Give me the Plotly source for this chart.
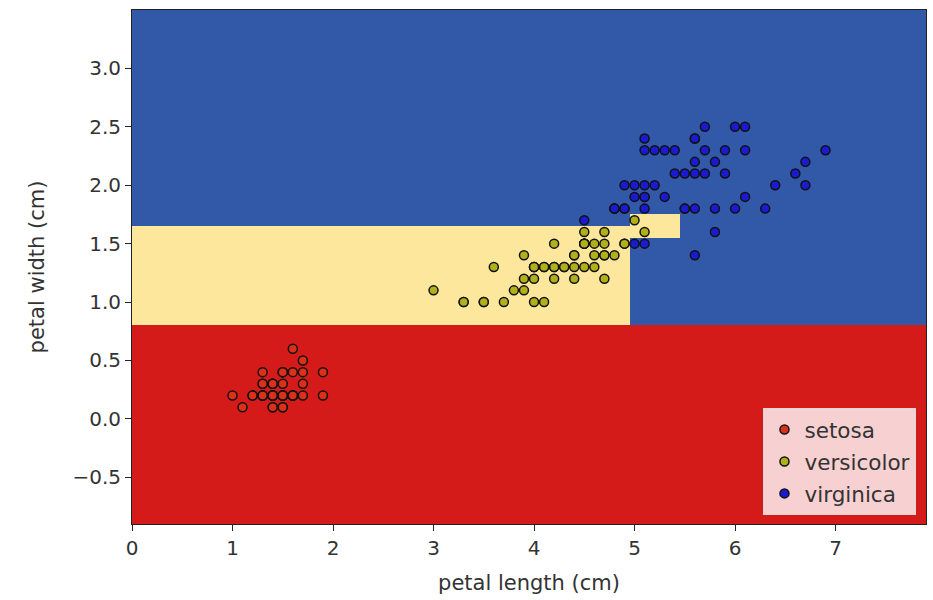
import plotly.graph_objects as go

# ---- data ----
setosa_len = [1.4,1.4,1.3,1.5,1.4,1.7,1.4,1.5,1.4,1.5,1.5,1.6,1.4,1.1,1.2,1.5,1.3,1.4,1.7,1.5,
              1.7,1.5,1.0,1.7,1.9,1.6,1.6,1.5,1.4,1.6,1.6,1.5,1.5,1.4,1.5,1.2,1.3,1.4,1.3,1.5,
              1.3,1.3,1.3,1.6,1.9,1.4,1.6,1.4,1.5,1.4]
setosa_wid = [0.2,0.2,0.2,0.2,0.2,0.4,0.3,0.2,0.2,0.1,0.2,0.2,0.1,0.1,0.2,0.4,0.4,0.3,0.3,0.3,
              0.2,0.4,0.2,0.5,0.2,0.2,0.4,0.2,0.2,0.2,0.2,0.4,0.1,0.2,0.2,0.2,0.2,0.1,0.2,0.2,
              0.3,0.3,0.2,0.6,0.4,0.3,0.2,0.2,0.2,0.2]
versi_len = [4.7,4.5,4.9,4.0,4.6,4.5,4.7,3.3,4.6,3.9,3.5,4.2,4.0,4.7,3.6,4.4,4.5,4.1,4.5,3.9,
             4.8,4.0,4.9,4.7,4.3,4.4,4.8,5.0,4.5,3.5,3.8,3.7,3.9,5.1,4.5,4.5,4.7,4.4,4.1,4.0,
             4.4,4.6,4.0,3.3,4.2,4.2,4.2,4.3,3.0,4.1]
versi_wid = [1.4,1.5,1.5,1.3,1.5,1.3,1.6,1.0,1.3,1.4,1.0,1.5,1.0,1.4,1.3,1.4,1.5,1.0,1.5,1.1,
             1.8,1.3,1.5,1.2,1.3,1.4,1.4,1.7,1.5,1.0,1.1,1.0,1.2,1.6,1.5,1.6,1.5,1.3,1.3,1.3,
             1.2,1.4,1.2,1.0,1.3,1.2,1.3,1.3,1.1,1.3]
virg_len = [6.0,5.1,5.9,5.6,5.8,6.6,4.5,6.3,5.8,6.1,5.1,5.3,5.5,5.0,5.1,5.3,5.5,6.7,6.9,5.0,
            5.7,4.9,6.7,4.9,5.7,6.0,4.8,4.9,5.6,5.8,6.1,6.4,5.6,5.1,5.6,6.1,5.6,5.5,4.8,5.4,
            5.6,5.1,5.1,5.9,5.7,5.2,5.0,5.2,5.4,5.1]
virg_wid = [2.5,1.9,2.1,1.8,2.2,2.1,1.7,1.8,1.8,2.5,2.0,1.9,2.1,2.0,2.4,2.3,1.8,2.2,2.3,1.5,
            2.3,2.0,2.0,1.8,2.1,1.8,1.8,1.8,2.1,1.6,1.9,2.0,2.2,1.5,1.4,2.3,2.4,1.8,1.8,2.1,
            2.4,2.3,1.9,2.3,2.5,2.3,1.9,2.0,2.3,1.8]

# decision regions (tree thresholds) as bin edges and predicted class per cell
region_x_edges = [0.0, 4.95, 5.45, 7.9]
region_y_edges = [-0.9, 0.8, 1.55, 1.65, 1.75, 3.5]
region_class = [
    [0, 0, 0],
    [1, 2, 2],
    [1, 1, 2],
    [2, 1, 2],
    [2, 2, 2],
]

bg_red, bg_yel, bg_blue = "#d51b1a", "#fde79c", "#3159a8"
names = ["setosa", "versicolor", "virginica"]
pt_colors = ["#dc3018", "#b0b01a", "#1a1ad0"]

fig = go.Figure()
fig.add_trace(go.Heatmap(
    x=region_x_edges, y=region_y_edges, z=region_class,
    zmin=0, zmax=2, showscale=False, hoverinfo="skip",
    colorscale=[[0, bg_red], [1/3, bg_red], [1/3, bg_yel], [2/3, bg_yel], [2/3, bg_blue], [1, bg_blue]],
))

for nm, xs, ys, c in zip(names, [setosa_len, versi_len, virg_len], [setosa_wid, versi_wid, virg_wid], pt_colors):
    fig.add_trace(go.Scatter(
        x=xs, y=ys, mode="markers", name=nm, legendgroup=nm,
        marker=dict(size=9, color=c, line=dict(color="#111111", width=1.5)),
    ))

axis_common = dict(
    showgrid=False, zeroline=False, ticks="outside", ticklen=6, tickwidth=1,
    tickcolor="#222", showline=True, linecolor="#222", linewidth=1, mirror=True,
    tickfont=dict(size=20, color="#333"),
)
fig.update_layout(
    width=933, height=600,
    margin=dict(l=132, r=7, t=10, b=76),
    paper_bgcolor="white", plot_bgcolor="white",
    font=dict(family="DejaVu Sans", size=20, color="#333"),
    xaxis=dict(range=[0, 7.9], tickvals=[0, 1, 2, 3, 4, 5, 6, 7],
               title=dict(text="petal length (cm)", font=dict(size=21), standoff=16), **axis_common),
    yaxis=dict(range=[-0.9, 3.5], tickvals=[-0.5, 0, 0.5, 1.0, 1.5, 2.0, 2.5, 3.0],
               tickformat=".1f",
               title=dict(text="petal width (cm)", font=dict(size=21), standoff=22), **axis_common),
    legend=dict(x=0.988, y=0.0175, xanchor="right", yanchor="bottom",
                bgcolor="rgba(255,255,255,0.8)", bordercolor="#d8d8d8", borderwidth=1,
                font=dict(size=21.5, color="#333"), tracegroupgap=1, traceorder="grouped",
                itemwidth=30),
    showlegend=True,
)

fig.write_html("out.html")
